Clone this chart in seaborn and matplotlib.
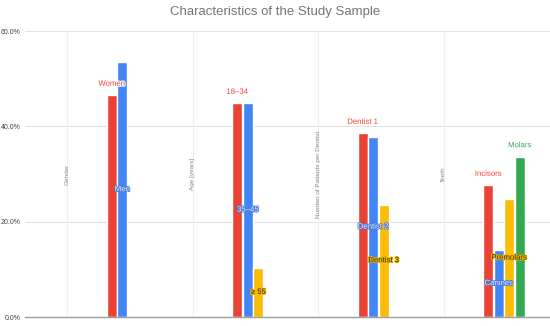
import matplotlib
matplotlib.use("Agg")
import matplotlib.pyplot as plt
import matplotlib.patheffects as pe
import seaborn as sns
import pandas as pd

# ---- data ----
categories = ["Gender", "Age [years]", "Number of Patients per Dentist", "Teeth"]
series_names = ["S1", "S2", "S3", "S4"]
series_colors = ["#EA4335", "#4285F4", "#FBBC04", "#34A853"]

gender_labels = ["Women", "Men"]
gender_values = [46.5, 53.4]
age_labels = ["18\u201334", "35\u201345", "\u2265 55"]
age_values = [44.8, 44.8, 10.3]
dentist_labels = ["Dentist 1", "Dentist 2", "Dentist 3"]
dentist_values = [38.5, 37.7, 23.6]
teeth_labels = ["Incisors", "Canines", "Premolars", "Molars"]
teeth_values = [27.6, 14.0, 24.7, 33.6]

yticks = [0, 20, 40, 60]
ytick_labels = ["0.0%", "20.0%", "40.0%", "60.0%"]
title = "Characteristics of the Study Sample"

groups = [(gender_labels, gender_values), (age_labels, age_values),
          (dentist_labels, dentist_values), (teeth_labels, teeth_values)]
rows = []
for cat, (labs, vals) in zip(categories, groups):
    for i, (l, v) in enumerate(zip(labs, vals)):
        rows.append({"category": cat, "series": series_names[i], "value": v, "label": l})
df = pd.DataFrame(rows)

# ---- plot ----
sns.set_theme(style="white")
plt.rcParams["font.family"] = ["Liberation Sans", "DejaVu Sans"]

fig = plt.figure(figsize=(5.5, 3.26), dpi=100)
ax = fig.add_axes([25 / 550, 1 - 317 / 326, 1 - 25 / 550, (317 - 31) / 326])

sns.barplot(data=df, x="category", y="value", hue="series", order=categories,
            hue_order=series_names, palette=series_colors, saturation=1,
            width=0.335, gap=0.06, legend=False, ax=ax, errorbar=None)

ax.set_ylim(0, 60)
ax.set_xlim(-0.817, 3.367)
ax.set_yticks(yticks)
ax.set_yticklabels(ytick_labels, fontsize=5, color="#444444")
ax.set_xticks([])
ax.set_xlabel("")
ax.set_ylabel("")
ax.tick_params(axis="y", length=0, pad=3)
for s in ["top", "right", "left"]:
    ax.spines[s].set_visible(False)
ax.spines["bottom"].set_color("#9e9e9e")
ax.spines["bottom"].set_linewidth(1.0)
for y in yticks[1:]:
    ax.axhline(y, color="#e3e3e3", lw=0.8, zorder=0)

# category separator lines with rotated labels
for i, cat in enumerate(categories):
    xpos = i - 0.48
    ax.axvline(xpos, color="#f0f0f0", lw=0.8, zorder=0)
    ax.text(xpos, 30, cat, rotation=90, ha="center", va="center",
            fontsize=4.6, color="#8a8a8a", zorder=1)

# data labels
for hi, cont in enumerate(ax.containers):
    color = series_colors[hi]
    sub = df[df["series"] == series_names[hi]]
    for bar in cont:
        h = bar.get_height()
        if not h or h != h:
            continue
        xc = bar.get_x() + bar.get_width() / 2
        ci = int(round(xc))
        match = sub[sub["category"] == categories[ci]]
        if match.empty:
            continue
        lab = match["label"].iloc[0]
        if hi in (0, 3):
            ax.annotate(lab, (xc, h), xytext=(0, 8), textcoords="offset points",
                        ha="center", va="center", fontsize=5.6, color=color,
                        path_effects=[pe.withStroke(linewidth=1.5, foreground="white")])
        elif hi == 1:
            ax.text(xc, h / 2, lab, ha="center", va="center", fontsize=5.6,
                    color="#e8eefc",
                    path_effects=[pe.withStroke(linewidth=1.2, foreground="#4a78d8")])
        else:
            ax.text(xc, h / 2, lab, ha="center", va="center", fontsize=5.6,
                    color="#3a2f00",
                    path_effects=[pe.withStroke(linewidth=1.2, foreground="#f2b600")])

fig.text(0.5, 1 - 12 / 326, title, ha="center", va="center", fontsize=9.5,
         color="#757575")

fig.savefig("out.png", dpi=100)
